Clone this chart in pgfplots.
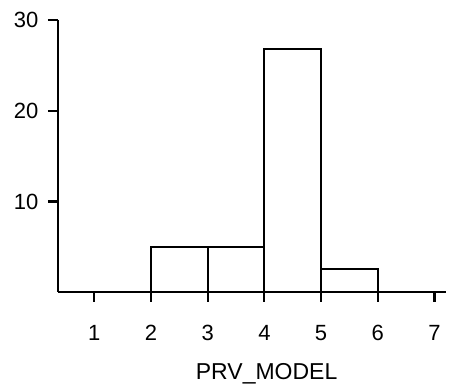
\documentclass[border=0pt]{standalone}
\usepackage{pgfplots}
\pgfplotsset{compat=1.18}
\usepackage{fontspec}
\setmainfont{Liberation Sans}
\begin{document}
\begin{tikzpicture}
\begin{axis}[
  name=ax,
  at={(0,0)}, anchor=south west,
  scale only axis,
  width=387.8pt, height=271.7pt,
  xmin=0.36, xmax=7.2, ymin=0, ymax=30,
  axis x line=bottom, axis y line=left,
  axis line style={-, line width=2.2pt},
  xtick={1,2,3,4,5,6,7},
  ytick={10,20,30},
  tick align=outside,
  major tick length=10pt,
  tick style={line width=2.2pt, black},
  /pgf/number format/assume math mode=true,
  ticklabel style={font=\fontsize{22}{26}\selectfont},
  xticklabel style={anchor=base, yshift=-39pt},
  yticklabel style={anchor=east, xshift=-6pt},
  xlabel={PRV\_MODEL},
  xlabel style={font=\fontsize{23}{28}\selectfont, at={(rel axis cs:0.538,0)}, anchor=base, yshift=-88pt},
  clip=false,
]
\addplot[ybar interval, fill=white, draw=black, line width=2.2pt] coordinates {(2,5) (3,5) (4,26.8) (5,2.5) (6,2.5)};
\end{axis}
\pgfresetboundingbox
\path (-58pt,-93pt) rectangle (393pt,292pt);
\end{tikzpicture}
\end{document}
